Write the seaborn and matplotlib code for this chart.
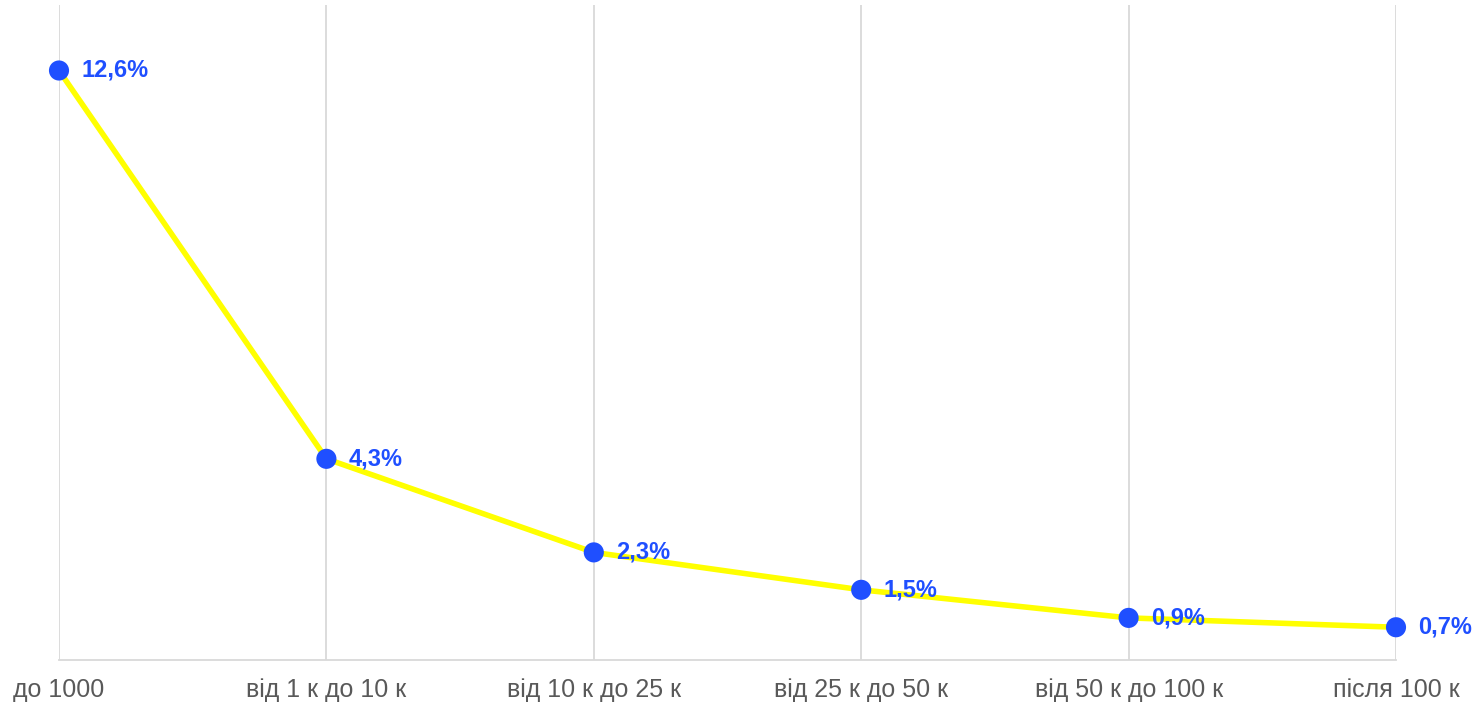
import matplotlib
matplotlib.use("Agg")
import matplotlib.pyplot as plt
import seaborn as sns
import pandas as pd

categories = ["до 1000", "від 1 к до 10 к", "від 10 к до 25 к",
              "від 25 к до 50 к", "від 50 к до 100 к", "після 100 к"]
values = [12.6, 4.3, 2.3, 1.5, 0.9, 0.7]
labels = ["12,6%", "4,3%", "2,3%", "1,5%", "0,9%", "0,7%"]

sns.set_theme(style="white")
plt.rcParams["font.family"] = ["Liberation Sans", "DejaVu Sans"]

df = pd.DataFrame({"cat": categories, "val": values, "pos": range(len(categories))})

fig = plt.figure(figsize=(14.79, 7.03), dpi=100)
ax = fig.add_axes([59 / 1479, 1 - 660 / 703, (1396 - 59) / 1479, (660 - 5) / 703])

for x in df["pos"]:
    ax.axvline(x, color="#d9d9d9", lw=1.3, zorder=0)

sns.lineplot(data=df, x="pos", y="val", ax=ax, color="#ffff00", lw=4,
             zorder=2, legend=False)
sns.scatterplot(data=df, x="pos", y="val", ax=ax, color="#1f4fff", s=210,
                edgecolor="none", zorder=3, legend=False, clip_on=False)

for x, y, t in zip(df["pos"], df["val"], labels):
    ax.annotate(t, (x, y), xytext=(16, 0), textcoords="offset points",
                ha="left", va="center", fontsize=17, fontweight="bold",
                color="#1f4fff", zorder=4, annotation_clip=False)

ax.set_xlim(0, len(categories) - 1)
ax.set_ylim(0, 14)
ax.set_xticks(list(df["pos"]))
ax.set_xticklabels(categories, fontsize=18, color="#595959")
ax.tick_params(axis="x", length=0, pad=13)
ax.set_yticks([])
ax.set_xlabel("")
ax.set_ylabel("")
for side in ["top", "left", "right"]:
    ax.spines[side].set_visible(False)
ax.spines["bottom"].set_color("#d9d9d9")
ax.spines["bottom"].set_linewidth(1.3)
ax.patch.set_alpha(0)

fig.savefig("out.png", dpi=100)
